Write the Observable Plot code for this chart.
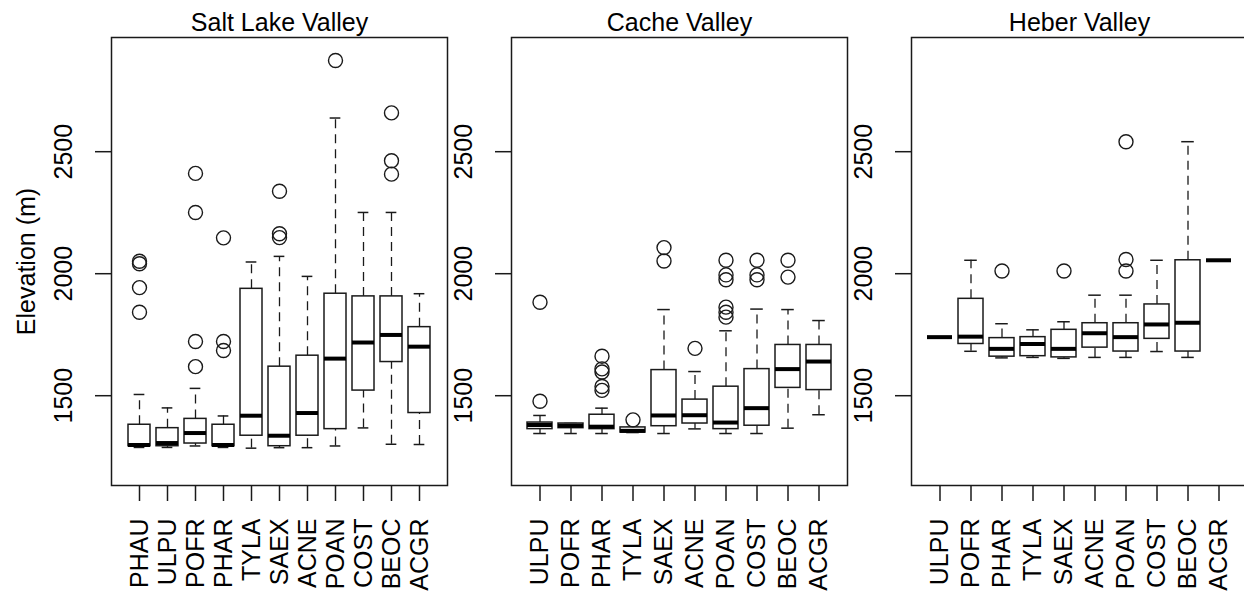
<!DOCTYPE html>
<html><head><meta charset="utf-8">
<script src="https://cdn.jsdelivr.net/npm/d3@7"></script>
<script src="https://cdn.jsdelivr.net/npm/@observablehq/plot@0.6"></script>
<style>
body{margin:0;background:#fff;width:1244px;height:600px;overflow:hidden;font-family:"Liberation Sans",Arial,sans-serif;}
#wrap{position:relative;width:1244px;height:600px;overflow:hidden;}
.panel{position:absolute;top:0;}
.panel svg{max-width:none !important;}
</style></head><body><div id="wrap"></div>
<script>
// ---------- data ----------
const yTicks = [1500, 2000, 2500];
const yLabel = "Elevation (m)";

const saltTitle = "Salt Lake Valley";
const saltCats = ["PHAU","ULPU","POFR","PHAR","TYLA","SAEX","ACNE","POAN","COST","BEOC","ACGR"];
const saltLo  = [1288,1288,1294,1288,1285,1287,1287,1294,1368,1301,1300];
const saltQ1  = [1293,1293,1304,1293,1336,1293,1336,1363,1521,1638,1429];
const saltMed = [1298,1306,1347,1298,1418,1336,1429,1652,1718,1749,1701];
const saltQ3  = [1381,1367,1405,1381,1938,1619,1664,1918,1907,1907,1781];
const saltHi  = [1505,1450,1530,1417,2048,2071,1989,2638,2251,2251,1918];
const saltOutCat = ["PHAU","PHAU","PHAU","PHAU","POFR","POFR","POFR","POFR","PHAR","PHAR","PHAR","SAEX","SAEX","SAEX","POAN","BEOC","BEOC","BEOC"];
const saltOutVal = [2051,2041,1943,1842,2411,2251,1722,1619,2147,1722,1685,2338,2164,2148,2874,2659,2463,2408];

const cacheTitle = "Cache Valley";
const cacheCats = ["ULPU","POFR","PHAR","TYLA","SAEX","ACNE","POAN","COST","BEOC","ACGR"];
const cacheLo  = [1345,1345,1345,1349,1345,1364,1345,1345,1367,1422];
const cacheQ1  = [1363,1367,1363,1349,1375,1386,1363,1377,1532,1523];
const cacheMed = [1380,1377,1373,1356,1419,1420,1390,1449,1609,1640];
const cacheQ3  = [1390,1386,1422,1370,1605,1484,1537,1609,1708,1708];
const cacheHi  = [1419,1386,1449,1370,1853,1599,1766,1855,1853,1808];
const cacheOutCat = ["ULPU","ULPU","PHAR","PHAR","PHAR","PHAR","PHAR","TYLA","SAEX","SAEX","ACNE","POAN","POAN","POAN","POAN","POAN","POAN","COST","COST","COST","BEOC","BEOC"];
const cacheOutVal = [1883,1477,1662,1610,1597,1538,1522,1401,2107,2052,1694,2055,1995,1975,1863,1842,1822,2055,1995,1975,2055,1986];

const heberTitle = "Heber Valley";
const heberCats = ["ULPU","POFR","PHAR","TYLA","SAEX","ACNE","POAN","COST","BEOC","ACGR"];
const heberLo  = [1740,1682,1655,1657,1653,1657,1657,1681,1657,2055];
const heberQ1  = [1740,1712,1660,1662,1657,1697,1681,1733,1681,2055];
const heberMed = [1740,1742,1692,1712,1692,1756,1740,1792,1799,2055];
const heberQ3  = [1740,1897,1736,1740,1770,1797,1797,1874,2055,2055];
const heberHi  = [1740,2055,1795,1770,1803,1912,1912,2055,2541,2055];
const heberOutCat = ["PHAR","SAEX","POAN","POAN","POAN"];
const heberOutVal = [2011,2011,2541,2058,2011];

// ---------- drawing ----------
const FONT = '"Liberation Sans", Arial, Helvetica, sans-serif';
const INK = "#1a1a1a";

function panel({title, cats, lo, q1, med, q3, hi, outCat, outVal, left, marginLeft, withYLabel}) {
  const rows = cats.map((c, i) => ({cat: c, lo: lo[i], q1: q1[i], med: med[i], q3: q3[i], hi: hi[i]}));
  const outs = outCat.map((c, i) => ({cat: c, v: outVal[i]}));
  const n = cats.length;
  const plotW = 336;
  const paddingOuter = (0.04 * n + 0.5) - 0.4; // R-style axis extension
  const step = plotW / (n - 0.2 + 2 * paddingOuter);
  const capInset = step * 0.8 * 0.25;
  const dash = "9,6";
  const marks = [
    Plot.ruleX(rows, {x: "cat", y1: "q3", y2: "hi", stroke: INK, strokeWidth: 1.3, strokeDasharray: dash}),
    Plot.ruleX(rows, {x: "cat", y1: "lo", y2: "q1", stroke: INK, strokeWidth: 1.3, strokeDasharray: dash}),
    Plot.tickY(rows, {x: "cat", y: "hi", stroke: INK, strokeWidth: 1.5, insetLeft: capInset, insetRight: capInset}),
    Plot.tickY(rows, {x: "cat", y: "lo", stroke: INK, strokeWidth: 1.5, insetLeft: capInset, insetRight: capInset}),
    Plot.barY(rows, {x: "cat", y1: "q1", y2: "q3", fill: "white", stroke: INK, strokeWidth: 1.5}),
    Plot.tickY(rows, {x: "cat", y: "med", stroke: "#000", strokeWidth: 4}),
    Plot.dot(outs, {x: "cat", y: "v", r: 7, stroke: INK, strokeWidth: 1.4, fill: "none"}),
    Plot.frame({stroke: INK, strokeWidth: 1.5}),
    Plot.axisX({tickSize: 16, tickFormat: () => "", label: null, stroke: INK, strokeWidth: 1.5}),
    Plot.axisY({ticks: yTicks, tickSize: 16, tickFormat: () => "", label: null, stroke: INK, strokeWidth: 1.5}),
    Plot.text(cats, {x: d => d, text: d => d, frameAnchor: "bottom", dy: 33, rotate: -90, textAnchor: "end", lineAnchor: "middle", fontSize: 25, fill: "#000"}),
    Plot.text(yTicks, {y: d => d, text: d => String(d), frameAnchor: "left", dx: -48, rotate: -90, textAnchor: "middle", lineAnchor: "middle", fontSize: 25, fill: "#000"}),
    Plot.text([title], {text: d => d, frameAnchor: "top", dy: -7, lineAnchor: "bottom", fontSize: 25, fill: "#000"})
  ];
  if (withYLabel) {
    marks.push(Plot.text([yLabel], {text: d => d, frameAnchor: "left", dx: -85, rotate: -90, textAnchor: "middle", lineAnchor: "middle", fontSize: 25, fill: "#000"}));
  }
  const W = marginLeft + plotW + 4;
  const chart = Plot.plot({
    width: W,
    height: 600,
    marginLeft, marginRight: 4, marginTop: 37, marginBottom: 115,
    x: {type: "band", domain: cats, paddingInner: 0.2, paddingOuter, align: 0.5, axis: null},
    y: {domain: [1132, 2968], axis: null},
    style: {fontFamily: FONT, fontSize: "25px", background: "transparent", color: "#000", overflow: "visible", maxWidth: "none"},
    marks
  });
  const div = document.createElement("div");
  div.className = "panel";
  div.style.left = left + "px";
  div.style.width = W + "px";
  div.appendChild(chart);
  document.getElementById("wrap").appendChild(div);
}

panel({title: saltTitle, cats: saltCats, lo: saltLo, q1: saltQ1, med: saltMed, q3: saltQ3, hi: saltHi,
       outCat: saltOutCat, outVal: saltOutVal, left: 0, marginLeft: 111, withYLabel: true});
panel({title: cacheTitle, cats: cacheCats, lo: cacheLo, q1: cacheQ1, med: cacheMed, q3: cacheQ3, hi: cacheHi,
       outCat: cacheOutCat, outVal: cacheOutVal, left: 447, marginLeft: 64, withYLabel: false});
panel({title: heberTitle, cats: heberCats, lo: heberLo, q1: heberQ1, med: heberMed, q3: heberQ3, hi: heberHi,
       outCat: heberOutCat, outVal: heberOutVal, left: 847, marginLeft: 64, withYLabel: false});
</script></body></html>
